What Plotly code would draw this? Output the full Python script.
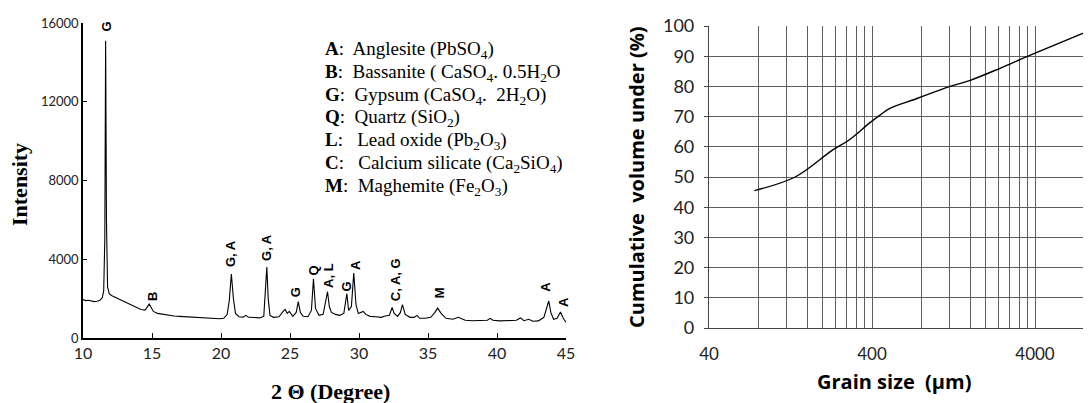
import plotly.graph_objects as go
import math

# ---------------- XRD data ----------------
two_theta = [10.0, 10.2, 10.4, 10.6, 10.8, 11.0, 11.2, 11.4, 11.5, 11.58, 11.64, 11.70, 11.78, 11.9,
             12.1, 12.4, 12.7, 13.0, 13.3, 13.6, 13.9, 14.2, 14.5, 14.7, 14.8, 14.9, 15.1, 15.4, 15.8,
             16.2, 16.6, 17.0, 17.5, 18.0, 18.5, 19.0, 19.5, 19.9, 20.2, 20.45, 20.6, 20.75, 20.9,
             21.05, 21.3, 21.6, 21.8, 22.0, 22.4, 22.8, 23.1, 23.22, 23.32, 23.42, 23.55, 23.8, 24.2,
             24.5, 24.65, 24.8, 24.95, 25.2, 25.45, 25.6, 25.75, 25.95, 26.3, 26.55, 26.7, 26.85,
             27.1, 27.4, 27.6, 27.72, 27.85, 28.0, 28.3, 28.6, 28.9, 29.05, 29.12, 29.25, 29.45,
             29.62, 29.78, 29.95, 30.3, 30.5, 30.8, 31.2, 31.6, 31.9, 32.2, 32.4, 32.55, 32.8, 33.0,
             33.15, 33.35, 33.7, 34.0, 34.2, 34.4, 34.8, 35.2, 35.5, 35.7, 35.95, 36.3, 36.8, 37.2,
             37.35, 37.7, 38.2, 38.8, 39.3, 39.5, 39.7, 40.2, 40.8, 41.4, 41.7, 41.95, 42.3, 42.6,
             43.0, 43.4, 43.65, 43.75, 43.9, 44.1, 44.35, 44.6, 44.8, 45.0]
intensity = [1950, 1900, 1920, 1880, 1850, 1870, 1900, 2050, 2400, 5000, 15100, 6000, 2600, 2250,
             2150, 2050, 1950, 1850, 1750, 1650, 1550, 1450, 1420, 1650, 1720, 1600, 1350, 1250, 1200,
             1150, 1120, 1100, 1080, 1050, 1030, 1010, 1000, 980, 1000, 1200, 1900, 3250, 2000,
             1250, 1080, 1060, 1150, 1050, 1040, 1020, 1100, 2200, 3600, 2000, 1150, 1050, 1080,
             1350, 1450, 1250, 1350, 1100, 1300, 1850, 1300, 1100, 1080, 1400, 3000, 1500,
             1150, 1200, 1900, 2350, 1600, 1300, 1200, 1150, 1250, 1900, 2250, 1400, 1600,
             3300, 1700, 1250, 1350, 1200, 1100, 1080, 1050, 1120, 1150, 1550, 1250, 1100, 1300,
             1700, 1200, 1050, 1050, 1150, 1000, 1000, 1050, 1300, 1520, 1250, 1000, 950, 1050,
             1000, 900, 880, 880, 900, 1000, 900, 870, 870, 900, 1020, 880, 950, 850,
             870, 1050, 1650, 1880, 1300, 950, 1000, 1320, 1000, 800]

peak_labels = ["G", "B", "G, A", "G, A", "G", "Q", "A, L", "G", "A", "C, A, G", "M", "A", "A"]
peak_x = [11.7, 15.0, 20.7, 23.3, 25.4, 26.7, 27.75, 29.1, 29.7, 32.7, 35.8, 43.55, 44.85]
peak_y = [15850, 2080, 4300, 4600, 2300, 3450, 3200, 2600, 3700, 2950, 2280, 2600, 1830]

legend_lines = [
    "<b>A</b>:  Anglesite (PbSO<sub>4</sub>)",
    "<b>B</b>:  Bassanite ( CaSO<sub>4</sub>. 0.5H<sub>2</sub>O",
    "<b>G</b>:  Gypsum (CaSO<sub>4</sub>.  2H<sub>2</sub>O)",
    "<b>Q</b>:  Quartz (SiO<sub>2</sub>)",
    "<b>L</b>:   Lead oxide (Pb<sub>2</sub>O<sub>3</sub>)",
    "<b>C</b>:   Calcium silicate (Ca<sub>2</sub>SiO<sub>4</sub>)",
    "<b>M</b>:  Maghemite (Fe<sub>2</sub>O<sub>3</sub>)",
]

xrd_xticks = [10, 15, 20, 25, 30, 35, 40, 45]
xrd_yticks = [0, 4000, 8000, 12000, 16000]

# ---------------- Grain size data ----------------
grain_size = [76, 135, 230, 285, 389, 448, 515, 755, 1205, 1600, 2440, 3620, 8800]
cum_volume = [45.5, 50, 59, 62, 68, 70.5, 72.7, 76, 80, 82, 86, 90, 98.7]
gs_yticks = [0, 10, 20, 30, 40, 50, 60, 70, 80, 90, 100]
gs_labelled = [40, 400, 4000]
gs_multipliers = [1, 2, 3, 4, 5, 6, 7, 8, 9]
gs_decades = [40, 400, 4000]

W, H = 1091, 403
OFF = 8  # page body margin offset


def px(x):
    return (x - OFF) / W


def py(y):
    return 1 - (y - OFF) / H


fig = go.Figure()

fig.add_trace(go.Scatter(x=two_theta, y=intensity, mode="lines",
                         line=dict(color="black", width=1.1),
                         xaxis="x", yaxis="y", showlegend=False))

fig.add_trace(go.Scatter(x=grain_size, y=cum_volume, mode="lines", line_shape="spline",
                         line=dict(color="black", width=1.4),
                         xaxis="x2", yaxis="y2", showlegend=False))

gs_tickvals = [d * m for d in gs_decades for m in gs_multipliers]
gs_ticktext = [str(v) if v in gs_labelled else "" for v in gs_tickvals]

sans = "Lato"
grid = "#5e5e5e"
fig.update_layout(
    width=W, height=H,
    margin=dict(l=0, r=0, t=0, b=0, autoexpand=False),
    paper_bgcolor="white", plot_bgcolor="white",
    xaxis=dict(domain=[px(83), px(566)], range=[10, 45], tickvals=xrd_xticks,
               ticktext=[str(v) for v in xrd_xticks], automargin=False,
               showgrid=False, zeroline=False, showline=True, linecolor="black", linewidth=1.5,
               ticks="inside", ticklen=5, tickcolor="black", tickwidth=1.2,
               tickfont=dict(family=sans, size=16, color="#222"), anchor="y"),
    yaxis=dict(domain=[py(338), py(23)], range=[0, 16000], tickvals=xrd_yticks,
               ticktext=[str(v) for v in xrd_yticks], automargin=False,
               showgrid=False, zeroline=False, showline=True, linecolor="black", linewidth=1.5,
               ticks="inside", ticklen=4, tickcolor="black", tickwidth=1.2,
               tickfont=dict(family=sans, size=13, color="#222"), anchor="x"),
    xaxis2=dict(domain=[px(709), px(1091)], type="log",
                range=[math.log10(40), math.log10(40) + (1091 - 709) / 163.0],
                tickvals=gs_tickvals, ticktext=gs_ticktext, automargin=False,
                showgrid=True, gridcolor=grid, gridwidth=1,
                zeroline=False, showline=True, linecolor="#444", linewidth=1.2,
                ticks="", ticklabelstandoff=10,
                tickfont=dict(family=sans, size=17, color="#222"), anchor="y2"),
    yaxis2=dict(domain=[py(328), py(26)], range=[0, 100], tickvals=gs_yticks,
                ticktext=[str(v) for v in gs_yticks], automargin=False,
                showgrid=True, gridcolor=grid, gridwidth=1,
                zeroline=False, showline=True, linecolor="#444", linewidth=1.2,
                ticks="outside", ticklen=4, tickcolor="#444", ticklabelstandoff=6,
                tickfont=dict(family=sans, size=18, color="#222"), anchor="x2"),
)

annotations = []
# axis titles
annotations.append(dict(text="<b>Intensity</b>", x=px(19), y=py(185), xref="paper", yref="paper",
                        xanchor="center", yanchor="middle", textangle=-90, showarrow=False,
                        font=dict(family="Liberation Serif", size=22, color="black")))
annotations.append(dict(text="<b>2 \u0398 (Degree)</b>", x=px(330), y=py(391), xref="paper", yref="paper",
                        xanchor="center", yanchor="middle", showarrow=False,
                        font=dict(family="Liberation Serif", size=22, color="black")))
annotations.append(dict(text="<b>Cumulative\u00a0\u00a0volume under (%)</b>", x=px(636), y=py(177),
                        xref="paper", yref="paper", xanchor="center", yanchor="middle",
                        textangle=-90, showarrow=False,
                        font=dict(family="Open Sans", size=20, color="black")))
annotations.append(dict(text="<b>Grain size\u00a0\u00a0(\u00b5m)</b>", x=px(894), y=py(381),
                        xref="paper", yref="paper", xanchor="center", yanchor="middle", showarrow=False,
                        font=dict(family="Open Sans", size=20, color="black")))
# peak labels
for t, xv, yv in zip(peak_labels, peak_x, peak_y):
    annotations.append(dict(text=f"<b>{t}</b>", x=xv, y=yv, xref="x", yref="y", textangle=-90,
                            xanchor="center", yanchor="middle", showarrow=False,
                            font=dict(family="Liberation Sans", size=13, color="black")))
# legend text block
for i, line in enumerate(legend_lines):
    annotations.append(dict(text=line, x=px(323), y=py(50 + i * 22.8), xref="paper", yref="paper",
                            xanchor="left", yanchor="middle", showarrow=False,
                            font=dict(family="Liberation Serif", size=19, color="black")))

fig.update_layout(annotations=annotations)

fig.write_html("out.html")
